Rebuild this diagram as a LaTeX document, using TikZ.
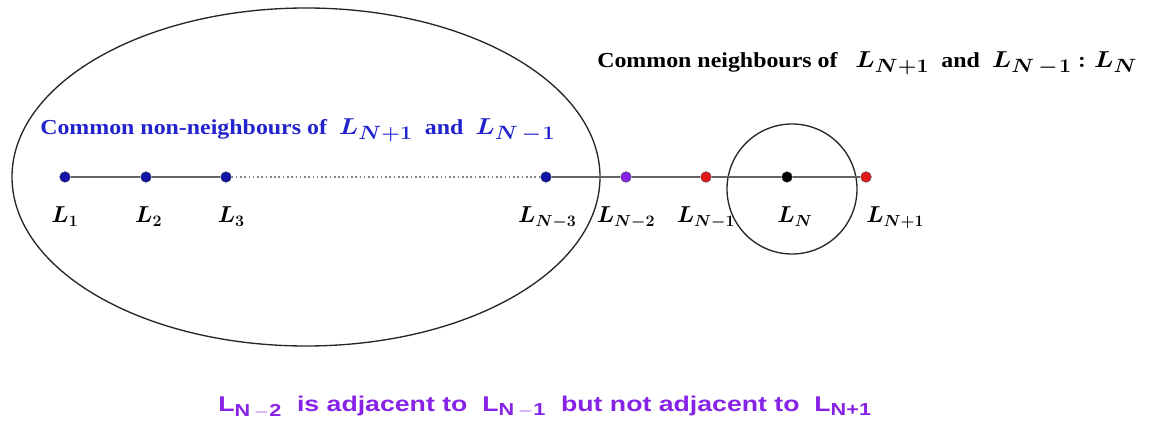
\documentclass[tikz,border=0pt]{standalone}
\usepackage{fontspec}
\setmainfont{Liberation Serif}
\setsansfont{Liberation Sans}
\usetikzlibrary{positioning}
\definecolor{dotblue}{RGB}{20,20,170}
\definecolor{textblue}{RGB}{35,35,205}
\definecolor{adjpurple}{RGB}{135,35,230}
\definecolor{dotred}{RGB}{225,25,25}
\definecolor{edgegray}{RGB}{100,100,100}
\newcommand{\bigL}[1]{{\fontsize{19}{21}\selectfont\boldmath$L_{#1}$}}
\newcommand{\sfL}[1]{L\textsubscript{\fontsize{13}{15}\selectfont #1}}
\newcommand{\wide}[2][1.12]{\scalebox{#1}[1]{#2}}
\newcommand{\mminus}{\mkern3mu-\mkern1mu}

\tikzset{
  vtx/.style={circle, inner sep=0pt, minimum size=8pt, draw=black!75, line width=0.3pt},
  vlabel/.style={font=\fontsize{16.5}{18}\selectfont\boldmath, inner sep=1pt},
  edge/.style={edgegray, line width=2.2pt},
  set/.style={black!85, line width=1pt},
  caption/.style={anchor=west, inner sep=0pt, font=\bfseries\fontsize{16}{18}\selectfont},
}

\begin{document}
\begin{tikzpicture}[x=0.75pt, y=-0.75pt]
    \useasboundingbox (0,0) rectangle (1162,427);

    % the two sets
    \draw[set] (306,177) ellipse [x radius=294, y radius=169];
    \draw[set] (792,189) circle [radius=65];

    % path of vertices
    \node[vtx, fill=dotblue] (l1) at (65,177) {};
    \node[vtx, fill=dotblue] (l2) at (146,177) {};
    \node[vtx, fill=dotblue] (l3) at (226,177) {};
    \node[vtx, fill=dotblue] (lm3) at (546,177) {};
    \node[vtx, fill=adjpurple] (lm2) at (626,177) {};
    \node[vtx, fill=dotred] (lm1) at (706,177) {};
    \node[vtx, fill=black] (ln) at (787,177) {};
    \node[vtx, fill=dotred] (lp1) at (866,177) {};

    \draw[edge] (l1) -- (l2) -- (l3);
    \draw[edgegray!80, line width=1.2pt, dotted] (l3) -- (lm3);
    \draw[edge] (lm3) -- (lm2) -- (lm1) -- (ln) -- (lp1);

    \node[vlabel, below=17pt of l1] {$L_1$};
    \node[vlabel, below=17pt of l2, xshift=2pt] {$L_2$};
    \node[vlabel, below=17pt of l3, xshift=4pt] {$L_3$};
    \node[vlabel, below=17pt of lm3, xshift=1pt] {$L_{N-3}$};
    \node[vlabel, below=17pt of lm2] {$L_{N-2}$};
    \node[vlabel, below=17pt of lm1] {$L_{N-1}$};
    \node[vlabel, below=17pt of ln, xshift=6pt] {$L_N$};
    \node[vlabel, below=17pt of lp1, xshift=22pt] {$L_{N+1}$};

    % captions
    \node[caption, text=textblue] (nonnb) at (40,130)
      {\wide{Common non-neighbours of \ \bigL{N+1} \ and \ \bigL{N\mminus1}}};
    \node[caption] (commonnb) at (597,63)
      {\wide{Common neighbours of \ \ \bigL{N+1} \ and \ \bigL{N\mminus1}\ {\fontsize{19}{21}\selectfont\boldmath$:L_N$}}};
    \node[caption, text=adjpurple, font=\sffamily\bfseries\fontsize{16}{18}\selectfont] (adjacent) at (218,407)
      {\wide[1.25]{\sfL{N\,$-$2}\ \ is adjacent to\ \ \sfL{N\,$-$1}\ \ but not adjacent to\ \ \sfL{N+1}}};
  \end{tikzpicture}
\end{document}
